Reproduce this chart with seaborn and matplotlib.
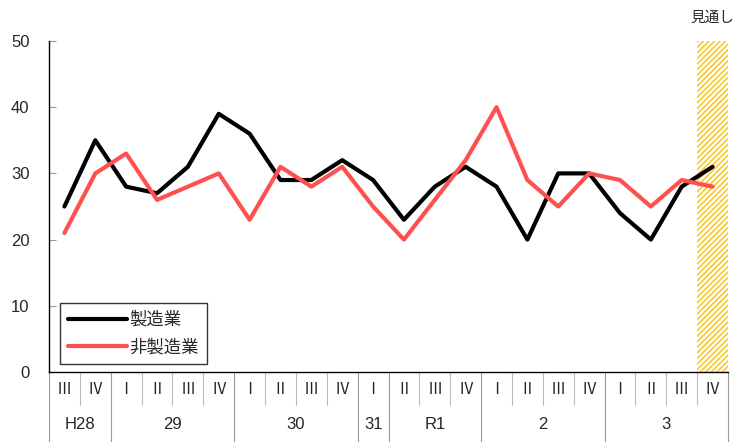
import matplotlib
matplotlib.use("Agg")
import matplotlib.pyplot as plt
import seaborn as sns
import pandas as pd
import numpy as np
from matplotlib.patches import Rectangle
from matplotlib.transforms import blended_transform_factory

sns.set_style("white")
plt.rcParams['font.family'] = ['Noto Sans CJK JP', 'DejaVu Sans']
plt.rcParams['hatch.linewidth'] = 1.2

quarters = ["Ⅲ", "Ⅳ", "Ⅰ", "Ⅱ", "Ⅲ", "Ⅳ", "Ⅰ", "Ⅱ", "Ⅲ", "Ⅳ", "Ⅰ",
            "Ⅱ", "Ⅲ", "Ⅳ", "Ⅰ", "Ⅱ", "Ⅲ", "Ⅳ", "Ⅰ", "Ⅱ", "Ⅲ", "Ⅳ"]
years = ["H28", "29", "30", "31", "R1", "2", "3"]
year_counts = [2, 4, 4, 1, 3, 4, 4]
manufacturing = [25, 35, 28, 27, 31, 39, 36, 29, 29, 32, 29,
                 23, 28, 31, 28, 20, 30, 30, 24, 20, 28, 31]
non_manufacturing = [21, 30, 33, 26, 28, 30, 23, 31, 28, 31, 25,
                     20, 26, 32, 40, 29, 25, 30, 29, 25, 29, 28]
series_names = ["製造業", "非製造業"]
forecast_label = "見通し"

n = len(quarters)
df = pd.DataFrame({
    "idx": list(range(n)) * 2,
    "value": manufacturing + non_manufacturing,
    "series": [series_names[0]] * n + [series_names[1]] * n,
})

fig = plt.figure(figsize=(7.34, 4.42), dpi=100)
ax = fig.add_axes([49 / 734, 1 - 372 / 442, (728 - 49) / 734, (372 - 41) / 442])

# forecast hatched region (last quarter)
ax.add_patch(Rectangle((n - 1.5, 0), 1, 50, facecolor="none", edgecolor="#F7CA2A",
                       hatch="//////", linewidth=0, zorder=0))

sns.lineplot(data=df, x="idx", y="value", hue="series",
             palette=["#000000", "#FF5050"], linewidth=3.0, ax=ax, legend=True)

ax.set_xlim(-0.5, n - 0.5)
ax.set_ylim(0, 50)
ax.set_yticks(range(0, 51, 10))
ax.set_yticklabels([str(v) for v in range(0, 51, 10)], fontsize=12,
                   family=['Liberation Sans', 'DejaVu Sans'])
ax.tick_params(axis="y", left=True, direction="in", length=5, width=0.8,
               color="#999999", pad=14)
ax.set_xticks([])
ax.set_xlabel("")
ax.set_ylabel("")
for s in ["top", "right"]:
    ax.spines[s].set_visible(False)
ax.spines["left"].set_color("black")
ax.spines["bottom"].set_color("black")
ax.spines["left"].set_linewidth(1.0)
ax.spines["bottom"].set_linewidth(1.0)

leg = ax.legend(loc="lower left", bbox_to_anchor=(0.016, 0.024), frameon=True,
                fancybox=False, edgecolor="black", fontsize=12.5, handlelength=3.4,
                borderpad=0.45, labelspacing=0.55, handletextpad=0.15,
                borderaxespad=0)
leg.get_frame().set_linewidth(1.0)

# x-axis table
trans = blended_transform_factory(ax.transData, ax.transAxes)
q_y = -0.054
y_y = -0.158
row_split = (372 - 405) / 331
bottom = (372 - 442) / 331
for i, q in enumerate(quarters):
    ax.text(i, q_y, q, transform=trans, ha="center", va="center", fontsize=11)
# year boundaries
bounds = np.cumsum([0] + year_counts)
for b in bounds:
    ax.plot([b - 0.5, b - 0.5], [0, bottom], transform=trans, color="#999999",
            lw=0.8, clip_on=False)
for i in range(n + 1):
    if i not in bounds:
        ax.plot([i - 0.5, i - 0.5], [0, row_split], transform=trans, color="#bbbbbb",
                lw=0.8, clip_on=False)
for k, yl in enumerate(years):
    center = (bounds[k] + bounds[k + 1] - 1) / 2
    ax.text(center, y_y, yl, transform=trans, ha="center", va="center", fontsize=12,
            family=['Liberation Sans', 'DejaVu Sans'])

ax.text(n - 1, 1.07, forecast_label, transform=trans, ha="center", va="center",
        fontsize=10.5)

fig.savefig("out.png", dpi=100)
